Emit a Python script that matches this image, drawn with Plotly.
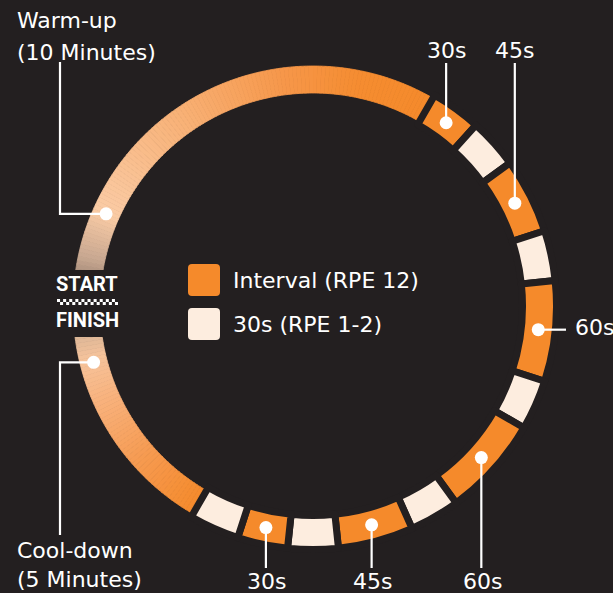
import numpy as np
import plotly.graph_objects as go

# ---------------- data ----------------
warmup_label = "Warm-up"
warmup_minutes = 10
cooldown_label = "Cool-down"
cooldown_minutes = 5
interval_seconds = [30, 45, 60, 60, 45, 30]
rest_seconds = [30, 30, 30, 30, 30, 30]
interval_tick_labels = ["30s", "45s", "60s", "60s", "45s", "30s"]
legend_labels = ["Interval (RPE 12)", "30s (RPE 1-2)"]
start_finish = ["START", "FINISH"]
# warm-up / cool-down are drawn on the ring at half their real duration
WARMCOOL_RING_SCALE = 0.5

# ---------------- style ----------------
W, H = 613, 593
BG = "#231f20"
ORANGE = "#f58a2b"
REST = "#fdeddf"
WHITE = "#ffffff"
FONT = "DejaVu Sans, Roboto, sans-serif"
FS = 22
CX, CY = 313, 306
R_OUT, R_IN = 240, 213
GAP = 7
R_MID = (R_OUT + R_IN) / 2
ROT = 270

warm_stops = [(0.0, (110, 92, 84)), (0.1, (200, 168, 145)), (0.2, (250, 203, 165)),
              (0.45, (248, 178, 120)), (0.7, (246, 150, 72)), (0.85, (245, 140, 48)),
              (1.0, (245, 138, 43))]
cool_stops = [(0.0, (245, 138, 43)), (0.3, (246, 154, 80)), (0.6, (248, 178, 125)),
              (0.78, (246, 195, 155)), (0.9, (215, 180, 150)), (1.0, (110, 92, 84))]


def grad(stops, t):
    for (t0, c0), (t1, c1) in zip(stops[:-1], stops[1:]):
        if t0 <= t <= t1:
            f = (t - t0) / (t1 - t0)
            c = [round(a + (b - a) * f) for a, b in zip(c0, c1)]
            return "rgb(%d,%d,%d)" % tuple(c)
    return "rgb(%d,%d,%d)" % stops[-1][1]


warm_val = warmup_minutes * 60 * WARMCOOL_RING_SCALE
cool_val = cooldown_minutes * 60 * WARMCOOL_RING_SCALE
middle = []
for iv, rs in zip(interval_seconds, rest_seconds):
    middle += [("int", iv), ("rest", rs)]
total = warm_val + cool_val + sum(v for _, v in middle)

# ---------- trace A: gradient warm-up / cool-down ----------
NW, NC = 120, 60
valsA, colsA, lcolA, lwA = [], [], [], []
for k in range(NW):
    c = grad(warm_stops, (k + 0.5) / NW)
    valsA.append(warm_val / NW); colsA.append(c); lcolA.append(c); lwA.append(0.8)
for kind, v in middle:
    valsA.append(v); colsA.append("rgba(0,0,0,0)"); lcolA.append("rgba(0,0,0,0)"); lwA.append(0)
for k in range(NC):
    c = grad(cool_stops, (k + 0.5) / NC)
    valsA.append(cool_val / NC); colsA.append(c); lcolA.append(c); lwA.append(0.8)

# ---------- trace B: intervals and rests ----------
valsB = [warm_val] + [v for _, v in middle] + [cool_val]
colsB = ["rgba(0,0,0,0)"] + [ORANGE if k == "int" else REST for k, _ in middle] + ["rgba(0,0,0,0)"]
lwB = [0] + [GAP] * len(middle) + [0]


def pie_domain(r):
    return dict(x=[(CX - r) / W, (CX + r) / W], y=[(H - CY - r) / H, (H - CY + r) / H])


RA = R_OUT
RB = R_OUT + GAP / 2
fig = go.Figure()
fig.add_trace(go.Pie(values=valsA, sort=False, direction="clockwise", rotation=ROT,
                     hole=R_IN / RA, domain=pie_domain(RA), textinfo="none",
                     hoverinfo="skip", showlegend=False,
                     marker=dict(colors=colsA, line=dict(color=lcolA, width=lwA))))
fig.add_trace(go.Pie(values=valsB, sort=False, direction="clockwise", rotation=ROT,
                     hole=(R_IN - GAP / 2) / RB, domain=pie_domain(RB), textinfo="none",
                     hoverinfo="skip", showlegend=False,
                     marker=dict(colors=colsB, line=dict(color=BG, width=lwB))))


def ring_xy(value_pos, r=R_MID):
    b = np.deg2rad(ROT + value_pos / total * 360)
    return CX + r * np.sin(b), CY - r * np.cos(b)


shapes, annotations = [], []


def dot(x, y, r=6.5):
    shapes.append(dict(type="circle", xref="x", yref="y", x0=x - r, x1=x + r, y0=y - r, y1=y + r,
                       fillcolor=WHITE, line=dict(width=0), layer="above"))


def line(pts):
    path = "M " + " L ".join("%.2f,%.2f" % p for p in pts)
    shapes.append(dict(type="path", xref="x", yref="y", path=path,
                       line=dict(color=WHITE, width=2.2), layer="above"))


def text(x, y, s, size=FS, xanchor="center", font=FONT, color=WHITE):
    annotations.append(dict(x=x, y=y, xref="x", yref="y", text=s, showarrow=False,
                            xanchor=xanchor, yanchor="middle",
                            font=dict(family=font, size=size, color=color)))


# interval labels
label_side = ["up", "up", "right", "down", "down", "down"]
pos = warm_val
dot_x, dot_y = [], []
idx = 0
for kind, v in middle:
    if kind == "int":
        x, y = ring_xy(pos + v / 2)
        side = label_side[idx]
        if side == "up":
            line([(x, y), (x, 63)])
            text(x, 50, interval_tick_labels[idx])
        elif side == "right":
            line([(x, y), (566, y)])
            text(573, y - 2, interval_tick_labels[idx], xanchor="left")
        else:
            line([(x, y), (x, 568)])
            text(x + 1, 581, interval_tick_labels[idx])
        dot(x, y)
        dot_x.append(x); dot_y.append(y)
        idx += 1
    pos += v

# warm-up / cool-down leaders
wx, wy = ring_xy(warm_val * 0.2)
line([(wx, wy), (60, wy), (60, 62)])
dot(wx, wy)
text(15, 20, warmup_label, xanchor="left")
text(15, 52, "(%d Minutes)" % warmup_minutes, xanchor="left")

cx_, cy_ = ring_xy(total - cool_val * 0.24)
line([(cx_, cy_), (60, cy_), (60, 535)])
dot(cx_, cy_)
text(15, 550, cooldown_label, xanchor="left")
text(15, 579, "(%d Minutes)" % cooldown_minutes, xanchor="left")


# legend
def rrect(x0, y0, x1, y1, r, color):
    p = (f"M {x0+r},{y0} L {x1-r},{y0} Q {x1},{y0} {x1},{y0+r} L {x1},{y1-r} "
         f"Q {x1},{y1} {x1-r},{y1} L {x0+r},{y1} Q {x0},{y1} {x0},{y1-r} "
         f"L {x0},{y0+r} Q {x0},{y0} {x0+r},{y0} Z")
    shapes.append(dict(type="path", xref="x", yref="y", path=p, fillcolor=color,
                       line=dict(width=0), layer="above"))


rrect(188, 264, 220, 296, 4, ORANGE)
rrect(188, 308, 220, 340, 4, REST)
text(231, 280, legend_labels[0], xanchor="left")
text(231, 324, legend_labels[1], xanchor="left")

# START / FINISH block
shapes.append(dict(type="rect", xref="x", yref="y", x0=52, x1=122, y0=270, y1=337,
                   fillcolor=BG, line=dict(width=0), layer="above"))
for c in range(20):
    for r_ in range(2):
        if (c + r_) % 2 == 0:
            x0 = 57 + c * 3.05
            y0 = 299 + r_ * 3
            shapes.append(dict(type="rect", xref="x", yref="y", x0=x0, x1=x0 + 3.05,
                               y0=y0, y1=y0 + 3, fillcolor=WHITE, line=dict(width=0),
                               layer="above"))
BOLDC = "Roboto, sans-serif"
text(87, 284, "<b>%s</b>" % start_finish[0], size=20, font=BOLDC)
text(87, 320, "<b>%s</b>" % start_finish[1], size=20, font=BOLDC)

# invisible anchor trace for the pixel-mapped axes
fig.add_trace(go.Scatter(x=dot_x, y=dot_y, mode="markers", marker=dict(opacity=0),
                         hoverinfo="skip", showlegend=False))

fig.update_layout(width=W, height=H, margin=dict(l=0, r=0, t=0, b=0),
                  paper_bgcolor=BG, plot_bgcolor=BG, showlegend=False,
                  xaxis=dict(range=[0, W], visible=False, fixedrange=True),
                  yaxis=dict(range=[H, 0], visible=False, fixedrange=True),
                  shapes=shapes, annotations=annotations)
fig.write_html("out.html", config={"displayModeBar": False},
               post_script="document.body.style.margin='0';document.body.style.overflow='hidden';")
